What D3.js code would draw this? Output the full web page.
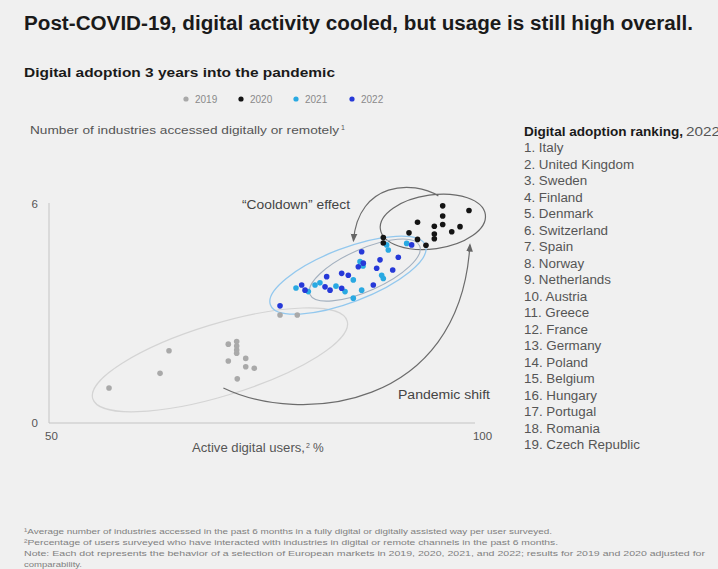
<!DOCTYPE html>
<html>
<head>
<meta charset="utf-8">
<script src="https://cdn.jsdelivr.net/npm/d3@7"></script>
<style>
  html, body { margin: 0; padding: 0; background: #f0f0f0; }
  svg { display: block; font-family: "Liberation Sans", Arial, sans-serif; }
</style>
</head>
<body>
<svg id="chart" width="718" height="569"></svg>
<script>
// ---------- data ----------
const years = ["2019", "2020", "2021", "2022"];
const yearColors = ["#a9a9a9", "#141414", "#29a9e2", "#2639d8"];

const x2019 = [56.73, 62.65, 63.69, 70.57, 71.54, 71.54, 71.54, 71.54, 70.57, 72.59, 72.59, 73.58, 71.61, 76.57, 78.57];
const y2019 = [0.96, 1.36, 1.98, 2.16, 2.23, 2.11, 2.00, 1.91, 1.70, 1.77, 1.54, 1.50, 1.21, 2.96, 2.96];

const x2020 = [95.44, 98.49, 95.44, 92.52, 95.44, 94.47, 97.45, 96.49, 91.53, 94.47, 94.47, 92.52, 93.50, 88.55, 88.55];
const y2020 = [5.95, 5.82, 5.67, 5.50, 5.44, 5.39, 5.38, 5.24, 5.21, 5.18, 5.05, 5.03, 4.87, 5.08, 4.93];

const x2021 = [79.85, 80.63, 85.07, 84.11, 85.07, 86.04, 85.85, 88.36, 88.55, 88.94, 89.13, 91.26, 83.06, 78.42, 86.20, 81.20];
const y2021 = [3.60, 3.78, 3.92, 3.60, 3.42, 3.64, 4.42, 4.05, 3.96, 4.88, 4.74, 4.92, 3.75, 3.70, 4.30, 3.84];

const x2022 = [76.57, 79.08, 81.98, 81.79, 82.37, 83.72, 84.49, 83.72, 86.04, 86.23, 85.65, 88.17, 87.39, 87.78, 89.64, 90.29, 91.84, 79.47];
const y2022 = [3.21, 3.78, 4.01, 3.73, 3.64, 4.10, 4.05, 3.69, 4.69, 4.38, 4.28, 4.47, 3.78, 4.24, 4.19, 4.54, 4.88, 3.64];

const xTicks = [50, 100];
const yTicks = [0, 6];

const ranking = ["Italy", "United Kingdom", "Sweden", "Finland", "Denmark", "Switzerland", "Spain",
  "Norway", "Netherlands", "Austria", "Greece", "France", "Germany", "Poland", "Belgium",
  "Hungary", "Portugal", "Romania", "Czech Republic"];

const footnotes = [
  "\u00B9Average number of industries accessed in the past 6 months in a fully digital or digitally assisted way per user surveyed.",
  "\u00B2Percentage of users surveyed who have interacted with industries in digital or remote channels in the past 6 months.",
  "Note: Each dot represents the behavior of a selection of European markets in 2019, 2020, 2021, and 2022; results for 2019 and 2020 adjusted for",
  "comparability."
];

// cluster ellipses (centre in data units)
const ellipseCx = [69.6, 94.3, 84.45, 86.4];
const ellipseCy = [1.73, 5.51, 4.05, 4.19];

// ---------- drawing ----------
const svg = d3.select("#chart");
svg.append("rect").attr("width", 718).attr("height", 569).attr("fill", "#f0f0f0");

const x = d3.scaleLinear().domain([50, 100]).range([51, 482]);
const y = d3.scaleLinear().domain([0, 6]).range([423, 204]);

function fit(sel, w) {
  sel.attr("textLength", w).attr("lengthAdjust", "spacingAndGlyphs");
  return sel;
}
function widen(sel, f) {
  sel.each(function () {
    const w = this.getComputedTextLength();
    d3.select(this).attr("textLength", w * f).attr("lengthAdjust", "spacingAndGlyphs");
  });
  return sel;
}

// Title & subtitle
fit(svg.append("text").attr("x", 24).attr("y", 30)
  .attr("font-size", 19.5).attr("font-weight", "bold").attr("fill", "#1a1a1a")
  .text("Post-COVID-19, digital activity cooled, but usage is still high overall."), 669);
fit(svg.append("text").attr("x", 24).attr("y", 77)
  .attr("font-size", 13).attr("font-weight", "bold").attr("fill", "#1a1a1a")
  .text("Digital adoption 3 years into the pandemic"), 311);

// Legend
const legX = [186, 241, 296, 352];
const leg = svg.append("g");
years.forEach((yr, i) => {
  leg.append("circle").attr("cx", legX[i]).attr("cy", 99).attr("r", 2.6).attr("fill", yearColors[i]);
  leg.append("text").attr("x", legX[i] + 9).attr("y", 102.5)
    .attr("font-size", 10).attr("fill", "#8a8a8a").text(yr);
});

// Y axis title
fit(svg.append("text").attr("x", 30).attr("y", 134)
  .attr("font-size", 11.5).attr("fill", "#555")
  .text("Number of industries accessed digitally or remotely"), 309);
svg.append("text").attr("x", 341).attr("y", 130).attr("font-size", 7).attr("fill", "#555").text("1");

// Axis lines
svg.append("line").attr("x1", 49).attr("x2", 49).attr("y1", 203).attr("y2", 423)
  .attr("stroke", "#c4c4c4").attr("stroke-width", 1);
svg.append("line").attr("x1", 49).attr("x2", 475).attr("y1", 423).attr("y2", 423)
  .attr("stroke", "#c4c4c4").attr("stroke-width", 1);

const yAxis = svg.append("g").attr("transform", "translate(49,0)")
  .call(d3.axisLeft(y).tickValues(yTicks).tickSize(0).tickPadding(11).tickFormat(d3.format("d")));
yAxis.select(".domain").remove();
yAxis.selectAll("text").attr("font-size", 11.5).attr("fill", "#555")
  .attr("font-family", "Liberation Sans, Arial, sans-serif");

const xAxis = svg.append("g").attr("transform", "translate(0,423)")
  .call(d3.axisBottom(x).tickValues(xTicks).tickSize(0).tickPadding(9).tickFormat(d3.format("d")));
xAxis.select(".domain").remove();
xAxis.selectAll("text").attr("font-size", 11.5).attr("fill", "#555")
  .attr("font-family", "Liberation Sans, Arial, sans-serif");

// X axis title
fit(svg.append("text").attr("x", 192).attr("y", 452)
  .attr("font-size", 12).attr("fill", "#555").text("Active digital users,"), 113);
svg.append("text").attr("x", 306).attr("y", 448).attr("font-size", 7).attr("fill", "#555").text("2");
svg.append("text").attr("x", 313).attr("y", 452).attr("font-size", 12).attr("fill", "#555").text("%");

// Ellipses
const ell = svg.append("g").attr("fill", "none");
const ellSpec = [
  { rx: 133, ry: 36, rot: -17, stroke: "#d4d4d4", w: 1.2 },
  { rx: 53, ry: 27, rot: -8, stroke: "#6a6a6a", w: 1.2 },
  { rx: 83, ry: 27, rot: -21, stroke: "#93c8ee", w: 1.3 },
  { rx: 60, ry: 21, rot: -24, stroke: "#a3b0bf", w: 1.1 }
];
ellSpec.forEach((e, i) => {
  const cx = x(ellipseCx[i]), cy = y(ellipseCy[i]);
  ell.append("ellipse").attr("cx", 0).attr("cy", 0).attr("rx", e.rx).attr("ry", e.ry)
    .attr("transform", `translate(${cx},${cy}) rotate(${e.rot})`)
    .attr("stroke", e.stroke).attr("stroke-width", e.w);
});

// Arrows (defined in data units)
svg.append("defs").append("marker").attr("id", "arr")
  .attr("viewBox", "0 0 10 10").attr("refX", 8).attr("refY", 5)
  .attr("markerWidth", 7).attr("markerHeight", 7).attr("orient", "auto-start-reverse")
  .append("path").attr("d", "M0,1 L10,5 L0,9 z").attr("fill", "#666");

const cool = [[94.94, 6.22], [92.05, 6.66], [85.67, 6.61], [85.09, 5.0]];
const pand = [[70.0, 0.96], [78.9, -0.05], [97.45, 0.36], [98.6, 4.88]];
function bez(pts) {
  const p = pts.map(d => [x(d[0]), y(d[1])]);
  return `M${p[0]}C${p[1]} ${p[2]} ${p[3]}`;
}
svg.append("path").attr("d", bez(cool)).attr("fill", "none")
  .attr("stroke", "#6c6c6c").attr("stroke-width", 1.2).attr("marker-end", "url(#arr)");
svg.append("path").attr("d", bez(pand)).attr("fill", "none")
  .attr("stroke", "#6c6c6c").attr("stroke-width", 1.2).attr("marker-end", "url(#arr)");

fit(svg.append("text").attr("x", 242).attr("y", 209).attr("font-size", 12).attr("fill", "#444")
  .text("\u201CCooldown\u201D effect"), 108);
fit(svg.append("text").attr("x", 398).attr("y", 399).attr("font-size", 12).attr("fill", "#444")
  .text("Pandemic shift"), 92);

// Points
const series = [
  { xs: x2019, ys: y2019, c: yearColors[0] },
  { xs: x2021, ys: y2021, c: yearColors[2] },
  { xs: x2022, ys: y2022, c: yearColors[3] },
  { xs: x2020, ys: y2020, c: yearColors[1] }
];
series.forEach(s => {
  svg.append("g").selectAll("circle").data(s.xs.map((v, i) => [v, s.ys[i]]))
    .join("circle").attr("cx", d => x(d[0])).attr("cy", d => y(d[1]))
    .attr("r", 2.8).attr("fill", s.c);
});

// Ranking list
fit(svg.append("text").attr("x", 524).attr("y", 135.5).attr("font-size", 12.5)
  .attr("font-weight", "bold").attr("fill", "#1a1a1a").text("Digital adoption ranking,"), 159);
svg.append("text").attr("x", 686).attr("y", 135.5).attr("font-size", 12).attr("fill", "#555")
  .attr("textLength", 34).attr("lengthAdjust", "spacingAndGlyphs").text("2022");
widen(svg.append("g").selectAll("text").data(ranking).join("text")
  .attr("x", 524).attr("y", (d, i) => 152 + i * 16.5)
  .attr("font-size", 12.5).attr("fill", "#555")
  .text((d, i) => `${i + 1}. ${d}`), 1.07);

// Footnotes
const fnW = [528, 534, 681, 58];
svg.append("g").selectAll("text").data(footnotes).join("text")
  .attr("x", 24).attr("y", (d, i) => 534 + i * 11)
  .attr("font-size", 7.5).attr("fill", "#808080")
  .attr("textLength", (d, i) => fnW[i]).attr("lengthAdjust", "spacingAndGlyphs")
  .text(d => d);
</script>
</body>
</html>
